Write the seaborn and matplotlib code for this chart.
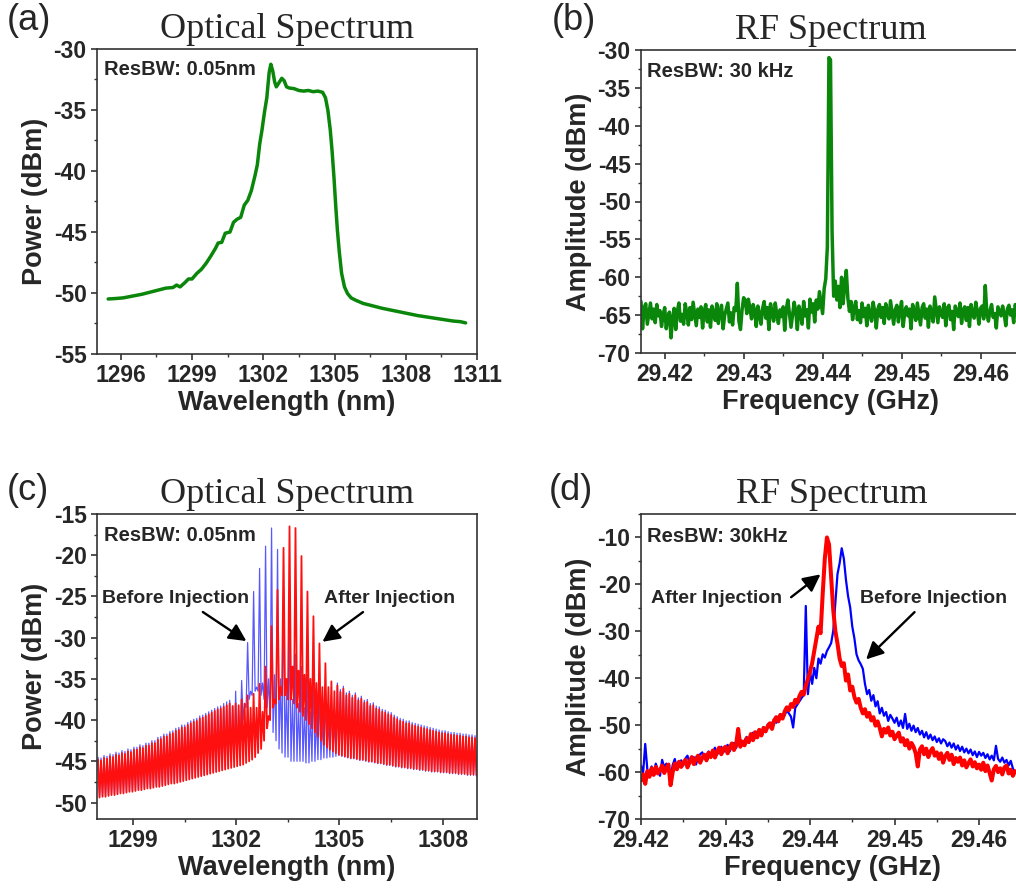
import numpy as np
import pandas as pd
import matplotlib
matplotlib.use('Agg')
import matplotlib.pyplot as plt
import seaborn as sns
from matplotlib.ticker import MultipleLocator, FormatStrFormatter

# ---- (a) optical spectrum, single trace ----
opt_wl = [1295.47, 1295.8, 1296.1, 1296.5, 1296.9, 1297.2, 1297.6, 1297.9, 1298.2, 1298.35,
          1298.5, 1298.7, 1298.85, 1299.0, 1299.2, 1299.4, 1299.6, 1299.8, 1300.0, 1300.1,
          1300.25, 1300.4, 1300.6, 1300.75, 1300.9, 1301.05, 1301.2, 1301.35, 1301.5, 1301.65,
          1301.75, 1301.85, 1301.95, 1302.05, 1302.15, 1302.25, 1302.32, 1302.40, 1302.48, 1302.55,
          1302.65, 1302.78, 1302.88, 1302.98, 1303.1, 1303.3, 1303.5, 1303.7, 1303.9, 1304.1,
          1304.3, 1304.5, 1304.62, 1304.72, 1304.82, 1304.9, 1304.98, 1305.05, 1305.12, 1305.2,
          1305.3, 1305.42, 1305.55, 1305.7, 1305.9, 1306.2, 1306.6, 1307.0, 1307.5, 1308.0,
          1308.5, 1309.0, 1309.5, 1310.0, 1310.3, 1310.52]
opt_power = [-50.49, -50.45, -50.40, -50.25, -50.10, -49.95, -49.75, -49.60, -49.55, -49.35,
             -49.50, -49.15, -48.85, -48.85, -48.40, -48.05, -47.55, -46.95, -46.30, -45.90,
             -45.85, -45.10, -45.00, -44.20, -43.95, -43.80, -42.80, -42.40, -41.60, -40.40,
             -39.50, -37.80, -36.60, -35.20, -34.00, -31.90, -31.25, -31.80, -32.70, -33.10,
             -32.80, -32.40, -32.60, -33.10, -33.20, -33.25, -33.40, -33.45, -33.40, -33.50,
             -33.45, -33.55, -34.00, -35.00, -36.60, -38.40, -40.60, -42.80, -44.80, -46.60,
             -48.40, -49.50, -50.05, -50.40, -50.60, -50.85, -51.05, -51.25, -51.45, -51.65,
             -51.85, -52.00, -52.15, -52.30, -52.35, -52.45]

# ---- (b) RF spectrum, sweep 29.4170 GHz step 0.0002 GHz ----
rf_b_start = 29.4170
rf_b_step = 0.0002
rf_b_amp = [
    -63.2, -66.8, -64.0, -63.5, -66.2, -64.8, -63.4, -65.5, -64.2, -66.0,
    -63.6, -65.1, -64.4, -66.5, -65.0, -64.0, -66.8, -65.2, -64.6, -68.0,
    -65.5, -64.1, -66.9, -64.5, -63.4, -65.8, -64.9, -66.2, -63.5, -64.7,
    -66.3, -64.0, -65.6, -63.3, -64.8, -66.4, -64.2, -65.3, -63.9, -66.7,
    -64.5, -63.6, -65.9, -64.3, -66.6, -63.8, -64.9, -65.7, -63.5, -66.1,
    -64.6, -63.7, -66.8, -65.0, -64.2, -63.4, -65.9, -64.7, -66.3, -64.0,
    -64.4, -60.8, -65.8, -66.9, -64.3, -62.7, -63.0, -64.8, -62.9, -64.1,
    -65.5, -63.6, -64.4, -66.5, -63.8, -64.9, -66.2, -64.1, -63.2, -65.4,
    -64.0, -66.9, -63.5, -64.6, -65.8, -63.4, -64.9, -66.1, -64.3, -65.2,
    -63.9, -67.0, -64.2, -63.0, -64.8, -66.6, -65.0, -63.3, -64.5, -66.9,
    -63.8, -64.7, -66.2, -63.2, -65.1, -64.3, -66.7, -62.9, -64.6, -63.5,
    -65.9, -63.0, -64.2, -61.9, -63.4, -64.8,
    -61.5, -60.2, -56.0, -31.0, -31.3, -54.0, -62.5, -60.5, -63.0, -61.2,
    -64.0, -60.0, -63.5, -61.0, -59.1, -62.8, -64.5, -63.2, -65.6, -64.0,
    -63.2, -65.6, -64.4, -66.0,
    -63.4, -65.2, -64.1, -66.4, -63.7, -64.9, -65.8, -63.3, -64.5, -66.7,
    -64.2, -63.6, -65.3, -64.0, -66.1, -63.5, -64.8, -65.5, -63.1, -64.6,
    -66.2, -64.3, -63.7, -65.9, -64.4, -63.2, -66.5, -64.7, -63.9, -65.1,
    -64.2, -66.8, -63.6, -64.5, -65.7, -63.4, -64.9, -66.3, -64.0, -63.5,
    -65.4, -64.2, -66.6, -63.8, -64.7, -65.9, -62.6, -64.3, -66.0, -63.9,
    -64.8, -65.3, -63.5, -66.4, -64.1, -63.7, -65.6, -64.5, -66.9, -63.8,
    -64.6, -65.2, -63.4, -66.1, -64.3, -63.9, -65.7, -64.0, -66.5, -63.6,
    -64.9, -65.4, -63.3, -64.6, -66.2, -64.1, -63.8, -65.5, -61.1, -64.7,
    -65.8, -64.4, -63.6, -65.3, -64.8, -66.7, -63.9, -64.5, -65.1, -63.8,
    -64.9, -66.4, -64.2, -63.7, -65.0, -64.3, -66.0, -63.6, -64.4]

# ---- (c) optical comb: peak / trough level of each longitudinal mode ----
mode_start = 1297.98
mode_spacing = 0.087
red_peak_left = [-44.8, -44.9, -44.6, -44.7, -44.4, -44.5, -44.2, -44.3, -44.0, -44.1,
                 -43.8, -43.9, -43.6, -43.6, -43.3, -43.4, -43.1, -43.1, -42.8, -42.8,
                 -42.4, -42.3, -42.0, -42.0, -41.7, -41.6, -41.3, -41.2, -40.9, -40.9,
                 -40.6, -40.4, -40.2, -40.1, -39.8, -39.7, -39.5, -39.3, -39.1, -38.9,
                 -38.7, -38.6, -38.4, -38.2]
red_peak_mid = [-38.0, -38.3, -38.0, -38.2, -37.5, -38.0, -37.0, -38.5, -36.8, -38.5,
                -35.6, -39.0, -33.5, -39.5, -28.6, -37.5, -24.2, -36.0, -19.1, -35.0,
                -16.5, -33.5, -16.7, -34.0, -20.1, -34.5, -24.4, -35.0, -27.4, -35.5,
                -30.7, -36.0, -33.1, -36.0, -35.3, -36.5]
red_peak_right = [-35.8, -36.6, -36.2, -37.0, -36.8, -37.3, -37.0, -37.6, -37.4, -37.9,
                  -37.8, -38.3, -38.2, -38.6, -38.7, -39.0, -39.1, -39.3, -39.4, -39.7,
                  -39.9, -40.1, -40.2, -40.4, -40.4, -40.6, -40.7, -40.8, -40.9, -41.0,
                  -41.1, -41.2, -41.3, -41.4, -41.5, -41.6, -41.6, -41.7, -41.8, -41.8,
                  -41.9, -41.9, -42.0, -42.0, -42.1, -42.1, -42.2]
red_trough_left = [-49.4, -49.3, -49.3, -49.2, -49.1, -49.1, -49.0, -48.9, -48.9, -48.8,
                   -48.7, -48.7, -48.6, -48.5, -48.5, -48.4, -48.3, -48.3, -48.2, -48.1,
                   -48.1, -48.0, -47.9, -47.8, -47.7, -47.7, -47.6, -47.5, -47.4, -47.3,
                   -47.2, -47.1, -47.0, -46.9, -46.8, -46.7, -46.6, -46.5, -46.4, -46.3,
                   -46.2, -46.1, -46.0, -45.9]
red_trough_mid = [-45.8, -45.7, -45.6, -45.5, -45.4, -45.2, -45.0, -44.8, -44.5, -44.0,
                  -43.5, -42.5, -41.0, -40.0, -38.5, -38.0, -37.5, -37.0, -37.0, -37.5,
                  -37.5, -38.0, -38.5, -39.0, -39.5, -40.0, -40.5, -41.0, -41.5, -42.0,
                  -42.5, -43.0, -43.3, -43.6, -43.8, -44.0]
red_trough_right = [-44.2, -44.3, -44.4, -44.5, -44.6, -44.6, -44.7, -44.8, -44.8, -44.9,
                    -45.0, -45.0, -45.1, -45.2, -45.2, -45.3, -45.4, -45.4, -45.5, -45.6,
                    -45.6, -45.7, -45.7, -45.8, -45.8, -45.9, -45.9, -46.0, -46.0, -46.1,
                    -46.1, -46.2, -46.2, -46.2, -46.3, -46.3, -46.3, -46.4, -46.4, -46.4,
                    -46.5, -46.5, -46.5, -46.6, -46.6, -46.6, -46.7]
blue_peak_left = [-44.5, -44.6, -44.3, -44.4, -44.1, -44.2, -43.9, -44.0, -43.7, -43.8,
                  -43.5, -43.6, -43.3, -43.3, -43.0, -43.1, -42.8, -42.8, -42.5, -42.5,
                  -42.1, -42.0, -41.7, -41.7, -41.4, -41.3, -41.0, -40.9, -40.6, -40.6,
                  -40.3, -40.1, -39.9, -39.8, -39.5, -39.4, -39.2, -39.0, -38.8, -38.6,
                  -38.4, -38.3, -38.0, -37.8]
blue_peak_mid = [-37.6, -38.3, -36.5, -38.8, -35.2, -38.0, -30.6, -36.5, -24.4, -36.0,
                 -21.6, -35.5, -18.9, -35.0, -16.7, -34.5, -19.3, -35.0, -24.5, -36.5,
                 -28.5, -37.5, -32.0, -38.0, -33.5, -38.5, -34.5, -39.0, -35.0, -39.5,
                 -36.0, -40.0, -36.5, -40.0, -37.0, -40.0]
blue_peak_right = [-35.5, -36.3, -35.9, -36.7, -36.5, -37.0, -36.7, -37.3, -37.1, -37.6,
                   -37.5, -38.0, -37.9, -38.3, -38.4, -38.7, -38.8, -39.0, -39.1, -39.4,
                   -39.6, -39.8, -39.9, -40.1, -40.1, -40.3, -40.4, -40.5, -40.6, -40.7,
                   -40.8, -40.9, -41.0, -41.1, -41.2, -41.3, -41.3, -41.4, -41.5, -41.5,
                   -41.6, -41.6, -41.7, -41.7, -41.8, -41.8, -41.9]
blue_trough_left = [-49.3, -49.2, -49.2, -49.1, -49.0, -49.0, -48.9, -48.8, -48.8, -48.7,
                    -48.6, -48.6, -48.5, -48.4, -48.4, -48.3, -48.2, -48.2, -48.1, -48.0,
                    -48.0, -47.9, -47.8, -47.7, -47.6, -47.6, -47.5, -47.4, -47.3, -47.2,
                    -47.1, -47.0, -46.9, -46.8, -46.7, -46.6, -46.5, -46.4, -46.3, -46.2,
                    -46.1, -46.0, -45.9, -45.6]
blue_trough_mid = [-45.0, -44.8, -44.5, -43.5, -40.0, -38.5, -37.5, -37.0, -36.5, -36.5,
                   -37.0, -37.5, -38.5, -40.0, -41.5, -42.5, -43.5, -44.0, -44.5, -44.5,
                   -45.0, -45.0, -45.0, -45.0, -45.0, -45.2, -45.2, -45.0, -45.0, -44.8,
                   -44.8, -44.6, -44.6, -44.5, -44.5, -44.4]
blue_trough_right = [-44.3, -44.4, -44.5, -44.6, -44.7, -44.7, -44.8, -44.9, -44.9, -45.0,
                     -45.1, -45.1, -45.2, -45.3, -45.3, -45.4, -45.5, -45.5, -45.6, -45.7,
                     -45.7, -45.8, -45.8, -45.9, -45.9, -46.0, -46.0, -46.1, -46.1, -46.2,
                     -46.2, -46.3, -46.3, -46.3, -46.4, -46.4, -46.4, -46.5, -46.5, -46.5,
                     -46.6, -46.6, -46.6, -46.7, -46.7, -46.7, -46.8]

# ---- (d) RF spectrum before/after injection, sweep 29.4200 GHz step 0.00025 GHz ----
rf_d_start = 29.4200
rf_d_step = 0.00025
after_amp = [
    -61.8, -60.5, -62.5, -59.8, -61.0, -59.2, -60.6, -58.9, -60.3, -59.6,
    -58.6, -60.2, -59.1, -58.4, -62.8, -60.0, -58.2, -59.4, -57.8, -58.9,
    -58.0, -57.4, -59.0, -57.9, -56.8, -58.3, -57.2, -56.5, -58.0, -56.9,
    -56.3, -57.5, -55.9, -56.8, -55.4, -56.9, -55.6, -54.8, -56.2, -55.0,
    -54.6, -56.0, -54.8, -53.9, -55.3, -54.2, -50.8, -54.6, -53.5, -54.3,
    -52.8, -53.6, -51.9, -53.2, -51.5, -52.6, -51.0, -52.2, -50.6, -51.3,
    -50.2, -49.6, -50.8, -49.0, -48.3, -49.2, -47.8, -48.6, -47.1, -46.2,
    -46.8, -45.5, -46.1, -44.6, -45.2, -43.8, -42.9, -43.5, -41.6, -40.2,
    -38.6, -36.8, -34.2, -31.5, -29.0, -30.4, -22.0, -14.5, -10.0, -11.5,
    -18.5, -25.5, -30.0, -32.6, -35.8, -37.4, -36.8, -40.5, -39.2, -42.6,
    -41.8, -44.0, -45.2, -44.4, -46.3, -47.5, -46.6, -48.2, -47.4, -49.0,
    -48.3, -50.1, -49.2, -50.6, -52.4, -50.8, -51.6, -50.5, -52.2, -51.4,
    -53.0, -52.2, -51.6, -53.5, -52.8, -54.3, -53.2, -55.0, -53.8, -54.6,
    -56.0, -58.8, -55.2, -54.5, -56.2, -55.0, -56.8, -55.6, -54.9, -56.5,
    -55.8, -57.2, -56.0, -58.0, -56.6, -55.9, -57.4, -56.3, -58.3, -57.0,
    -57.8, -56.9, -58.6, -57.5, -59.0, -58.1, -57.3, -58.8, -57.9, -59.2,
    -58.4, -59.5, -58.0, -59.8, -58.6, -60.2, -61.8, -59.4, -58.7, -60.0,
    -59.2, -60.5, -59.0, -58.6, -60.3, -59.5, -60.8, -59.8]
before_amp = [
    -58.6, -60.2, -54.0, -59.5, -61.0, -58.8, -60.4, -58.2, -59.6, -60.8,
    -57.4, -59.0, -58.2, -59.8, -61.2, -58.5, -57.2, -59.3, -58.0, -57.5,
    -58.6, -57.1, -56.5, -58.2, -57.6, -56.8, -58.4, -57.0, -56.2, -55.8,
    -57.2, -56.4, -55.6, -56.9, -55.9, -54.8, -56.3, -55.5, -54.6, -55.8,
    -54.9, -54.2, -55.6, -54.5, -53.8, -54.9, -53.6, -53.0, -54.2, -53.3,
    -52.5, -53.8, -52.4, -51.6, -52.8, -51.4, -50.9, -52.0, -50.4, -51.5,
    -49.8, -50.5, -49.6, -48.8, -49.5, -48.2, -47.7, -48.6, -47.9, -46.8,
    -47.5, -48.2, -50.5, -46.3, -45.6, -44.9, -44.2, -43.6, -24.6, -43.4,
    -38.6, -41.2, -37.8, -40.0, -35.8, -36.9, -34.9, -35.6, -34.2, -33.4,
    -32.5, -29.9, -24.0, -17.8, -15.5, -12.3, -14.5, -19.0, -22.5, -24.9,
    -29.0, -31.5, -34.9, -36.2, -37.0, -38.0, -41.2, -43.4, -42.5, -44.8,
    -43.6, -46.0, -44.9, -47.5, -46.3, -48.0, -47.2, -49.1, -47.8, -48.6,
    -49.5, -48.4, -50.2, -49.0, -50.6, -47.6, -50.8, -49.7, -51.2, -50.1,
    -51.5, -50.6, -52.0, -51.2, -52.6, -51.5, -52.9, -52.0, -53.2, -52.4,
    -53.6, -52.8, -53.9, -53.0, -53.4, -54.5, -53.7, -54.8, -53.9, -55.2,
    -54.3, -55.5, -54.6, -55.8, -55.0, -56.0, -55.2, -56.4, -55.6, -56.8,
    -55.7, -56.5, -55.9, -57.0, -56.2, -57.3, -56.5, -57.5, -54.4, -57.2,
    -57.8, -56.9, -58.0, -57.4, -58.6, -57.6, -59.2, -60.1]


def comb_trace(peaks, troughs):
    # zig-zag through each mode peak and the trough half a spacing later
    n = len(peaks)
    pos = mode_start + mode_spacing * np.arange(n)
    x = np.empty(2 * n)
    y = np.empty(2 * n)
    x[0::2] = pos
    x[1::2] = pos + mode_spacing / 2
    y[0::2] = peaks
    y[1::2] = troughs
    return pd.DataFrame({'wl': x, 'p': y})


def sweep(start, step, values):
    return pd.DataFrame({'f': start + step * np.arange(len(values)), 'a': values})


sns.set_theme(style='ticks')
plt.rcParams['font.family'] = ['Liberation Sans', 'DejaVu Sans']
plt.rcParams['font.weight'] = 'bold'
plt.rcParams['axes.unicode_minus'] = False
plt.rcParams['axes.edgecolor'] = '#333333'
plt.rcParams['axes.linewidth'] = 1.2

W, H = 1016, 892
fig = plt.figure(figsize=(W / 100, H / 100), dpi=100)
ax_a = fig.add_axes([97 / W, 1 - 354 / H, 380 / W, 305 / H])
ax_b = fig.add_axes([641 / W, 1 - 353 / H, 379 / W, 303 / H])
ax_c = fig.add_axes([97 / W, 1 - 819 / H, 380 / W, 305 / H])
ax_d = fig.add_axes([641 / W, 1 - 819 / H, 382 / W, 305 / H])

df_a = pd.DataFrame({'wl': opt_wl, 'p': opt_power})
sns.lineplot(data=df_a, x='wl', y='p', ax=ax_a, color='#0a870a', lw=2.5, sort=False, estimator=None)

df_b = sweep(rf_b_start, rf_b_step, rf_b_amp)
sns.lineplot(data=df_b, x='f', y='a', ax=ax_b, color='#0a870a', lw=2.5, sort=False, estimator=None)

df_blue = comb_trace(blue_peak_left + blue_peak_mid + blue_peak_right,
                     blue_trough_left + blue_trough_mid + blue_trough_right)
df_red = comb_trace(red_peak_left + red_peak_mid + red_peak_right,
                    red_trough_left + red_trough_mid + red_trough_right)
sns.lineplot(data=df_blue, x='wl', y='p', ax=ax_c, color='#2020ff', lw=0.9, alpha=0.75,
             sort=False, estimator=None)
sns.lineplot(data=df_red, x='wl', y='p', ax=ax_c, color='#ff1010', lw=1.3, sort=False, estimator=None)

df_before = sweep(rf_d_start, rf_d_step, before_amp)
df_after = sweep(rf_d_start, rf_d_step, after_amp)
sns.lineplot(data=df_before, x='f', y='a', ax=ax_d, color='#0000ff', lw=1.6, sort=False, estimator=None)
sns.lineplot(data=df_after, x='f', y='a', ax=ax_d, color='#ff0000', lw=2.9, sort=False, estimator=None)

# limits / ticks
ax_a.set_xlim(1295, 1311)
ax_a.set_ylim(-55, -30)
ax_a.xaxis.set_major_locator(MultipleLocator(3))
ax_a.xaxis.set_minor_locator(MultipleLocator(1.5))
ax_a.yaxis.set_major_locator(MultipleLocator(5))
ax_a.yaxis.set_minor_locator(MultipleLocator(2.5))

ax_b.set_xlim(29.417, 29.465)
ax_b.set_ylim(-70, -30)
ax_b.yaxis.set_major_locator(MultipleLocator(5))
ax_b.yaxis.set_minor_locator(MultipleLocator(2.5))

ax_c.set_xlim(1297.95, 1309.0)
ax_c.set_ylim(-52, -15)
ax_c.xaxis.set_major_locator(MultipleLocator(3))
ax_c.xaxis.set_minor_locator(MultipleLocator(1.5))
ax_c.yaxis.set_major_locator(MultipleLocator(5))
ax_c.yaxis.set_minor_locator(MultipleLocator(2.5))

ax_d.set_xlim(29.42, 29.4652)
ax_d.set_ylim(-70, -5)
ax_d.yaxis.set_major_locator(MultipleLocator(10))
ax_d.yaxis.set_minor_locator(MultipleLocator(5))

for ax in (ax_b, ax_d):
    ax.xaxis.set_major_locator(MultipleLocator(0.01))
    ax.xaxis.set_minor_locator(MultipleLocator(0.005))
    ax.xaxis.set_major_formatter(FormatStrFormatter('%.2f'))

for ax in (ax_a, ax_c):
    ax.xaxis.set_major_formatter(FormatStrFormatter('%d'))

for ax in (ax_a, ax_b, ax_c, ax_d):
    ax.tick_params(which='major', direction='out', length=4.5, width=1.2, color='#333333',
                   labelsize=16.5, pad=3)
    ax.tick_params(which='minor', direction='out', length=2.5, width=1.0, color='#333333')
    ax.tick_params(top=False, right=False)
    for s in ax.spines.values():
        s.set_visible(True)

ax_a.set_xlabel('Wavelength (nm)', fontsize=19.5, fontweight='bold', labelpad=2)
ax_c.set_xlabel('Wavelength (nm)', fontsize=19.5, fontweight='bold', labelpad=2)
ax_b.set_xlabel('Frequency (GHz)', fontsize=19.5, fontweight='bold', labelpad=2)
ax_d.set_xlabel('Frequency (GHz)', fontsize=19.5, fontweight='bold', labelpad=2)
ax_a.set_ylabel('Power (dBm)', fontsize=19.5, fontweight='bold', labelpad=4)
ax_c.set_ylabel('Power (dBm)', fontsize=19.5, fontweight='bold', labelpad=4)
ax_b.set_ylabel('Amplitude (dBm)', fontsize=19.5, fontweight='bold', labelpad=4)
ax_d.set_ylabel('Amplitude (dBm)', fontsize=19.5, fontweight='bold', labelpad=4)

for ax, t in ((ax_a, 'Optical Spectrum'), (ax_b, 'RF Spectrum'),
              (ax_c, 'Optical Spectrum'), (ax_d, 'RF Spectrum')):
    ax.set_title(t, fontfamily='Liberation Serif', fontsize=26, fontweight='normal', pad=8)

ax_a.text(0.018, 0.965, 'ResBW: 0.05nm', transform=ax_a.transAxes, fontsize=14.5,
          fontweight='bold', va='top', ha='left')
ax_b.text(0.016, 0.96, 'ResBW: 30 kHz', transform=ax_b.transAxes, fontsize=14.5,
          fontweight='bold', va='top', ha='left')
ax_c.text(0.018, 0.96, 'ResBW: 0.05nm', transform=ax_c.transAxes, fontsize=14.5,
          fontweight='bold', va='top', ha='left')
ax_d.text(0.016, 0.957, 'ResBW: 30kHz', transform=ax_d.transAxes, fontsize=14.5,
          fontweight='bold', va='top', ha='left')

arrow = dict(arrowstyle='-|>', color='black', lw=1.7, mutation_scale=26)
ax_c.text(1298.1, -25.3, 'Before Injection', fontsize=14, fontweight='bold', va='center', ha='left')
ax_c.annotate('', xy=(1302.36, -30.6), xytext=(1300.96, -26.7), arrowprops=arrow)
ax_c.text(1304.54, -25.3, 'After Injection', fontsize=14, fontweight='bold', va='center', ha='left')
ax_c.annotate('', xy=(1304.44, -30.7), xytext=(1305.75, -26.7), arrowprops=arrow)

ax_d.text(29.4212, -23.1, 'After Injection', fontsize=14, fontweight='bold', va='center', ha='left')
ax_d.annotate('', xy=(29.4415, -17.5), xytext=(29.4375, -23.1), arrowprops=arrow)
ax_d.text(29.4459, -23.1, 'Before Injection', fontsize=14, fontweight='bold', va='center', ha='left')
ax_d.annotate('', xy=(29.4464, -36.4), xytext=(29.4526, -25.5), arrowprops=arrow)

for x, y, s in ((7, 20, '(a)'), (552, 20, '(b)'), (7, 490, '(c)'), (549, 490, '(d)')):
    fig.text(x / W, 1 - y / H, s, fontsize=26, fontweight='normal', va='center', ha='left')

fig.savefig('out.png', dpi=100)
